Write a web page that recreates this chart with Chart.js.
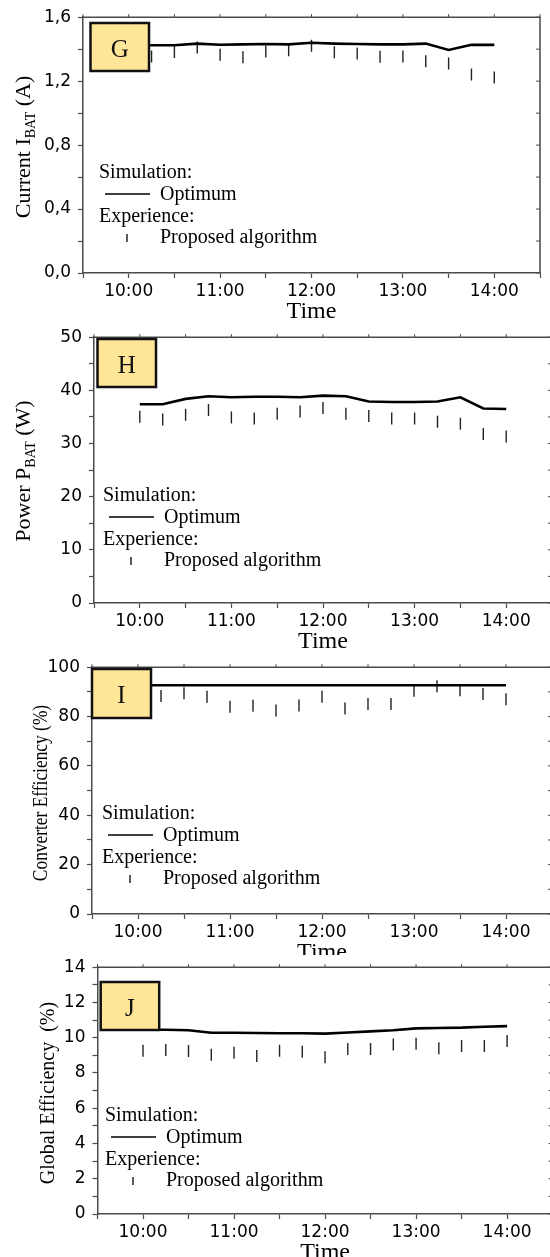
<!DOCTYPE html>
<html>
<head>
<meta charset="utf-8">
<script src="https://cdn.jsdelivr.net/npm/chart.js@4.4.1/dist/chart.umd.min.js"></script>
<style>
  html, body { margin: 0; padding: 0; background: #fff; }
  #page { position: relative; width: 550px; height: 1257px; overflow: hidden; background: #fff; }
  #page canvas { position: absolute; left: 0; }
</style>
</head>
<body>
<div id="page">
  <canvas id="chartG" width="560" height="325" style="top:0px"></canvas>
  <canvas id="chartH" width="560" height="335" style="top:320px"></canvas>
  <canvas id="chartI" width="560" height="305" style="top:650px"></canvas>
  <canvas id="chartJ" width="560" height="307" style="top:950px"></canvas>
</div>
<script>
// Data (hours, 15 min steps)
const times = [10, 10.25, 10.5, 10.75, 11, 11.25, 11.5, 11.75, 12, 12.25, 12.5, 12.75, 13, 13.25, 13.5, 13.75, 14];

// G - battery current (A)
const currentOptimum = [1.42, 1.425, 1.425, 1.435, 1.428, 1.43, 1.432, 1.43, 1.44, 1.435, 1.432, 1.43, 1.43, 1.435, 1.395, 1.428, 1.427];
const currentProposed = [1.36, 1.354, 1.383, 1.41, 1.365, 1.35, 1.385, 1.393, 1.422, 1.381, 1.373, 1.352, 1.354, 1.324, 1.311, 1.242, 1.223];

// H - battery power (W)
const powerOptimum = [37.4, 37.4, 38.4, 38.9, 38.7, 38.8, 38.8, 38.7, 39.0, 38.9, 37.9, 37.8, 37.8, 37.9, 38.7, 36.6, 36.5];
const powerProposed = [35.05, 34.5, 35.4, 36.3, 34.9, 34.7, 35.6, 36.0, 36.7, 35.6, 35.2, 34.7, 34.7, 34.1, 33.7, 31.8, 31.3];

// I - converter efficiency (%)
const convOptimum = [92.7, 92.7, 92.7, 92.7, 92.7, 92.7, 92.7, 92.7, 92.7, 92.7, 92.7, 92.7, 92.7, 92.7, 92.7, 92.7, 92.7];
const convProposed = [88, 88.3, 89.4, 88.0, 84.0, 84.4, 82.5, 84.5, 88.0, 83.3, 85.1, 85.1, 90.5, 92.3, 90.7, 89.1, 87.0];

// J - global efficiency (%)
const globalOptimum = [10.45, 10.45, 10.42, 10.28, 10.28, 10.27, 10.25, 10.25, 10.23, 10.3, 10.36, 10.42, 10.53, 10.55, 10.57, 10.62, 10.66];
const globalProposed = [9.26, 9.3, 9.25, 9.04, 9.15, 8.96, 9.26, 9.2, 8.89, 9.36, 9.36, 9.62, 9.66, 9.4, 9.53, 9.53, 9.81];

// Axis ranges
const xMin = 9.5, xMax = 14.5;

const SERIF = '"Liberation Serif", "Times New Roman", serif';
const SANS = '"DejaVu Sans", sans-serif';
const AXIS = '#4a4a4a';
const CANVAS_W = 560;

function toPoints(vals) {
  return vals.map((v, i) => ({ x: times[i], y: v }));
}

// draw a rotated axis title, parts can be subscripts
function drawYTitle(ctx, t) {
  ctx.save();
  ctx.translate(t.x, t.y);
  ctx.rotate(-Math.PI / 2);
  ctx.scale(t.squeeze || 1, 1);
  ctx.fillStyle = '#000';
  ctx.textAlign = 'left';
  ctx.textBaseline = 'alphabetic';
  const subSize = Math.round(t.size * 0.64);
  let total = 0;
  t.parts.forEach(p => {
    ctx.font = (p.sub ? subSize : t.size) + 'px ' + SERIF;
    total += ctx.measureText(p.text).width;
  });
  let cx = -total / 2;
  const base = t.size * 0.33;
  t.parts.forEach(p => {
    ctx.font = (p.sub ? subSize : t.size) + 'px ' + SERIF;
    ctx.fillText(p.text, cx, p.sub ? base + t.size * 0.22 : base);
    cx += ctx.measureText(p.text).width;
  });
  ctx.restore();
}

const decorPlugin = {
  id: 'panelDecor',
  afterDatasetsDraw(chart, args, opts) {
    const { ctx, chartArea: a, scales: { x, y } } = chart;
    ctx.save();

    // frame (top + right) with small ticks
    ctx.strokeStyle = AXIS;
    ctx.lineWidth = 1.5;
    ctx.beginPath();
    ctx.moveTo(a.left, a.top);
    ctx.lineTo(a.right, a.top);
    ctx.lineTo(a.right, a.bottom);
    ctx.stroke();
    ctx.lineWidth = 1;
    x.ticks.forEach(t => {
      const px = x.getPixelForValue(t.value);
      ctx.beginPath();
      ctx.moveTo(px, a.top);
      ctx.lineTo(px, a.top - 3);
      ctx.stroke();
    });
    y.ticks.forEach(t => {
      const py = y.getPixelForValue(t.value);
      ctx.beginPath();
      ctx.moveTo(a.right, py);
      ctx.lineTo(a.right - 4, py);
      ctx.stroke();
    });

    // panel letter box
    const b = opts.box;
    ctx.fillStyle = '#FFE597';
    ctx.fillRect(b.x, b.y, b.w, b.h);
    ctx.strokeStyle = '#111';
    ctx.lineWidth = 2.5;
    ctx.strokeRect(b.x, b.y, b.w, b.h);
    ctx.fillStyle = '#111';
    ctx.font = '25px ' + SERIF;
    ctx.textAlign = 'center';
    ctx.textBaseline = 'middle';
    ctx.fillText(opts.letter, b.x + b.w / 2, b.y + b.h / 2 + 3);

    // legend text
    const L = opts.legend;
    const ds = chart.data.datasets;
    ctx.fillStyle = '#000';
    ctx.strokeStyle = '#000';
    ctx.font = '20px ' + SERIF;
    ctx.textAlign = 'left';
    ctx.textBaseline = 'alphabetic';
    ctx.fillText('Simulation:', L.x, L.y);
    ctx.lineWidth = 1.3;
    ctx.beginPath();
    ctx.moveTo(L.x + 6, L.y + 16);
    ctx.lineTo(L.x + 51, L.y + 16);
    ctx.stroke();
    ctx.fillText(ds[0].label, L.x + 61, L.y + 21.5);
    ctx.fillText('Experience:', L.x, L.y + 43.5);
    ctx.beginPath();
    ctx.moveTo(L.x + 28, L.y + 56);
    ctx.lineTo(L.x + 28, L.y + 64);
    ctx.stroke();
    ctx.fillText(ds[1].label, L.x + 61, L.y + 65);

    // x title
    ctx.font = '24px ' + SERIF;
    ctx.textAlign = 'center';
    ctx.fillText('Time', (a.left + a.right) / 2, a.bottom + 45);

    ctx.restore();
    drawYTitle(ctx, opts.yTitle);
  }
};

function makeChart(id, p) {
  const canvas = document.getElementById(id);
  const H = canvas.height;
  return new Chart(canvas, {
    type: 'line',
    data: {
      datasets: [
        {
          label: 'Optimum',
          data: toPoints(p.optimum),
          borderColor: '#000',
          borderWidth: 2.6,
          pointRadius: 0,
          tension: 0,
          fill: false,
        },
        {
          label: 'Proposed algorithm',
          data: toPoints(p.proposed),
          showLine: false,
          pointStyle: 'line',
          rotation: 90,
          pointRadius: 6,
          borderColor: '#222',
          borderWidth: 1.4,
        },
      ],
    },
    options: {
      responsive: false,
      animation: false,
      events: [],
      layout: { padding: { left: 0, top: p.plot.top, right: CANVAS_W - p.plot.right, bottom: 0 } },
      plugins: {
        legend: { display: false },
        tooltip: { enabled: false },
        panelDecor: { box: p.box, letter: p.letter, legend: p.legend, yTitle: p.yTitle },
      },
      scales: {
        x: {
          type: 'linear',
          min: xMin,
          max: xMax,
          afterFit: s => { s.height = H - p.plot.bottom; },
          border: { display: true, color: AXIS, width: 1.5 },
          grid: { drawOnChartArea: false, drawTicks: true, tickLength: 5, color: AXIS, tickWidth: 1.2 },
          ticks: {
            stepSize: 0.5,
            autoSkip: false,
            maxRotation: 0,
            minRotation: 0,
            padding: 3,
            color: '#000',
            font: { family: SANS, size: 17 },
            callback: v => (Number.isInteger(v) ? v + ':00' : ''),
          },
        },
        y: {
          min: p.yMin,
          max: p.yMax,
          afterFit: s => { s.width = p.plot.left; },
          border: { display: true, color: AXIS, width: 1.5 },
          grid: { drawOnChartArea: false, drawTicks: true, tickLength: 5, color: AXIS, tickWidth: 1.2 },
          ticks: {
            stepSize: p.yStep,
            autoSkip: false,
            padding: 7,
            color: '#000',
            font: { family: SANS, size: 17 },
            callback: v => {
              const k = v / p.yLabelStep;
              if (Math.abs(k - Math.round(k)) > 1e-6) return '';
              return p.fmt(v);
            },
          },
        },
      },
    },
    plugins: [decorPlugin],
  });
}

const comma1 = v => (Math.round(v * 10) / 10).toFixed(1).replace('.', ',');
const whole = v => String(Math.round(v));

makeChart('chartG', {
  optimum: currentOptimum, proposed: currentProposed,
  yMin: 0, yMax: 1.6, yStep: 0.2, yLabelStep: 0.4, fmt: comma1,
  plot: { left: 83, right: 540, top: 13, bottom: 273 },
  box: { x: 90.5, y: 23, w: 58.5, h: 48 }, letter: 'G',
  legend: { x: 99, y: 178 },
  yTitle: { x: 23, y: 147, size: 22, parts: [{ text: 'Current I' }, { text: 'BAT', sub: true }, { text: ' (A)' }] },
});

makeChart('chartH', {
  optimum: powerOptimum, proposed: powerProposed,
  yMin: 0, yMax: 50, yStep: 5, yLabelStep: 10, fmt: whole,
  plot: { left: 94, right: 552, top: 17, bottom: 283 },
  box: { x: 97.5, y: 19, w: 58.5, h: 48 }, letter: 'H',
  legend: { x: 103, y: 181 },
  yTitle: { x: 23, y: 151, size: 22, parts: [{ text: 'Power P' }, { text: 'BAT', sub: true }, { text: ' (W)' }] },
});

makeChart('chartI', {
  optimum: convOptimum, proposed: convProposed,
  yMin: 0, yMax: 100, yStep: 10, yLabelStep: 20, fmt: whole,
  plot: { left: 92, right: 552, top: 16, bottom: 264 },
  box: { x: 92, y: 19, w: 59, h: 49 }, letter: 'I',
  legend: { x: 102, y: 169 },
  yTitle: { x: 40, y: 143, size: 22, squeeze: 0.79, parts: [{ text: 'Converter Efficiency (%)' }] },
});

makeChart('chartJ', {
  optimum: globalOptimum, proposed: globalProposed,
  yMin: 0, yMax: 14, yStep: 1, yLabelStep: 2, fmt: whole,
  plot: { left: 97.5, right: 556, top: 17, bottom: 264 },
  box: { x: 100.7, y: 32, w: 58.5, h: 48 }, letter: 'J',
  legend: { x: 105, y: 171 },
  yTitle: { x: 47, y: 143, size: 20, parts: [{ text: 'Global Efficiency  (%)' }] },
});
</script>
</body>
</html>
